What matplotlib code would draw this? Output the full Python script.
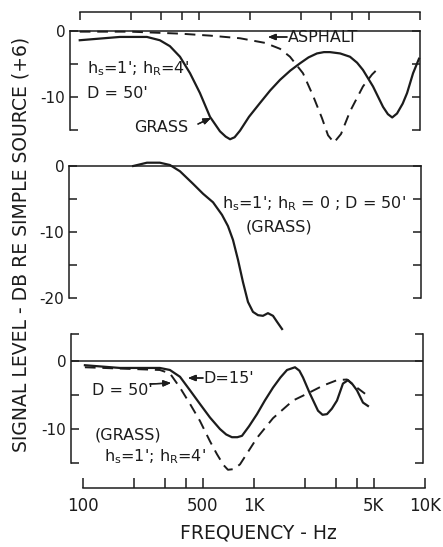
import matplotlib

matplotlib.use("Agg")
import matplotlib.pyplot as plt
from matplotlib.ticker import FixedFormatter, FixedLocator, NullLocator

# ---- data ----
# top panel: hs=1', hR=4', D=50'
top_freq = [97, 167, 241, 287, 329, 377, 432, 494, 566, 648, 700, 743, 790, 850, 960, 1115,
            1280, 1462, 1680, 1915, 2150, 2410, 2650, 2875, 3300, 3770, 4150, 4495, 5150,
            5900, 6300, 6680, 7130, 7700, 8170, 8860, 9600]
top_grass = [-1.4, -0.9, -0.9, -1.4, -2.3, -3.9, -6.4, -9.4, -13.0, -15.2, -16.0, -16.4,
             -16.1, -15.1, -13.0, -10.9, -9.0, -7.4, -6.0, -4.9, -4.0, -3.4, -3.2, -3.2, -3.4,
             -3.9, -4.8, -5.9, -8.4, -11.5, -12.6, -13.1, -12.5, -11.0, -9.4, -6.4, -4.2]
asphalt_freq = [97, 192, 377, 566, 850, 1192, 1462, 1673, 1995, 2285, 2580, 2800, 3035,
                3340, 3770, 4495, 5080, 5660]
asphalt = [-0.1, -0.1, -0.4, -0.7, -1.1, -1.8, -2.7, -3.9, -6.4, -9.8, -13.2, -15.8,
           -16.9, -15.6, -12.2, -8.4, -6.6, -5.4]

# middle panel: hs=1', hR=0, D=50' (grass)
mid_freq = [200, 241, 287, 329, 377, 450, 515, 590, 666, 722, 773, 827, 885, 947, 1013,
            1084, 1160, 1241, 1329, 1403, 1502]
mid_grass = [0.0, 0.5, 0.5, 0.15, -0.8, -2.7, -4.2, -5.5, -7.4, -9.1, -11.2, -14.2, -17.6,
             -20.6, -22.1, -22.6, -22.7, -22.3, -22.7, -23.6, -24.7]

# bottom panel: grass, hs=1', hR=4', D=15' and D=50'
d15_freq = [104, 167, 287, 329, 377, 432, 494, 566, 648, 705, 762, 820, 873, 960, 1070,
            1190, 1329, 1470, 1607, 1790, 1900, 1995, 2193, 2445, 2600, 2762, 2950, 3162,
            3428, 3670, 3900, 4145, 4495, 4810]
d15 = [-0.6, -1.0, -1.0, -1.3, -2.3, -4.3, -6.3, -8.3, -10.0, -10.8, -11.2, -11.2, -11.0,
       -9.6, -7.8, -5.8, -3.9, -2.4, -1.3, -0.9, -1.4, -2.4, -4.8, -7.3, -7.9, -7.8, -7.0,
       -5.8, -3.3, -2.8, -3.4, -4.3, -6.1, -6.6]
d50_freq = [104, 287, 329, 377, 432, 494, 566, 622, 680, 722, 780, 850, 1070, 1329, 1743,
            2106, 2617, 3162, 3620, 4145, 4625]
d50 = [-0.9, -1.3, -1.8, -3.9, -6.3, -8.8, -11.8, -13.7, -15.3, -16.0, -15.9, -15.2, -11.3,
       -8.4, -5.8, -4.8, -3.6, -2.8, -2.7, -3.9, -4.8]

freq_ticks = [100, 200, 300, 400, 500, 1000, 2000, 3000, 4000, 5000, 10000]
freq_labels = ["100", "", "", "", "500", "1K", "", "", "", "5K", "10K"]

W, H = 443, 547
INK = "#1c1c1c"
plt.rcParams["font.family"] = ["DejaVu Sans"]
plt.rcParams["text.color"] = INK
plt.rcParams["axes.edgecolor"] = INK
plt.rcParams["xtick.color"] = INK
plt.rcParams["ytick.color"] = INK


def fx(x):
    return x / W


def fy(y):
    return 1 - y / H


def px_axes(fig, x0, x1, y0, y1):
    return fig.add_axes([x0 / W, 1 - y1 / H, (x1 - x0) / W, (y1 - y0) / H])


def px_freq(x):
    # pixel column -> frequency, 100 Hz at x=82, one decade per 170 px
    return 10 ** (2 + (x - 82) / 170)


def panel(fig, x0, x1, y0, y1, ylim, ticks, labels, top_spine=True):
    ax = px_axes(fig, x0, x1, y0, y1)
    ax.set_xscale("log")
    ax.set_xlim(px_freq(x0), px_freq(x1))
    ax.set_ylim(*ylim)
    ax.patch.set_alpha(0)
    ax.xaxis.set_major_locator(NullLocator())
    ax.xaxis.set_minor_locator(NullLocator())
    ax.spines["bottom"].set_visible(False)
    ax.spines["top"].set_visible(top_spine)
    for side in ("left", "right", "top"):
        ax.spines[side].set_linewidth(1.1)
    ax.yaxis.set_major_locator(FixedLocator(ticks))
    ax.yaxis.set_major_formatter(FixedFormatter(labels))
    ax.tick_params(axis="y", direction="in", length=5.5, width=1.1, left=True,
                   right=True, labelsize=11, pad=3.5)
    return ax


fig = plt.figure(figsize=(W / 100, H / 100), dpi=100)

# top frequency scale
ax_top = px_axes(fig, 80, 420, 12, 22)
ax_top.set_xscale("log")
ax_top.set_xlim(100, 10000)
ax_top.patch.set_alpha(0)
for side in ("left", "right", "bottom"):
    ax_top.spines[side].set_visible(False)
ax_top.spines["top"].set_linewidth(1.1)
ax_top.set_yticks([])
ax_top.xaxis.set_major_locator(FixedLocator(freq_ticks))
ax_top.xaxis.set_minor_locator(NullLocator())
ax_top.tick_params(axis="x", direction="in", length=5.8, width=1.1, top=True,
                   bottom=False, labeltop=False, labelbottom=False)

# bottom frequency scale
ax_bot = px_axes(fig, 83, 425, 478, 488)
ax_bot.set_xscale("log")
ax_bot.set_xlim(100, 10000)
ax_bot.patch.set_alpha(0)
for side in ("left", "right", "top"):
    ax_bot.spines[side].set_visible(False)
ax_bot.spines["bottom"].set_linewidth(1.1)
ax_bot.set_yticks([])
ax_bot.xaxis.set_major_locator(FixedLocator(freq_ticks))
ax_bot.xaxis.set_major_formatter(FixedFormatter(freq_labels))
ax_bot.xaxis.set_minor_locator(NullLocator())
ax_bot.tick_params(axis="x", direction="in", length=7.2, width=1.1, labelsize=12, pad=6.5)

# panel 1
ax1 = panel(fig, 70, 420, 31, 130, (-15, 0), [-15, -10, -5, 0], ["", "-10", "", "0"])
ax1.plot(top_freq, top_grass, color=INK, lw=1.6, clip_on=False)
ax1.plot(asphalt_freq, asphalt, color=INK, lw=1.4, ls=(0, (5.5, 3.5)), clip_on=False)

# panel 2
ax2 = panel(fig, 69, 421, 166, 298, (-20, 0), [-20, -15, -10, -5, 0],
            ["-20", "", "-10", "", "0"])
ax2.plot(mid_freq, mid_grass, color=INK, lw=1.6, clip_on=False)

# panel 3
ax3 = panel(fig, 71, 423, 334, 463, (-15, 4), [-15, -10, -5, 0, 4],
            ["", "-10", "", "0", ""], top_spine=False)
ax3.axhline(0, color=INK, lw=1.1)
ax3.plot(d15_freq, d15, color=INK, lw=1.6, clip_on=False)
ax3.plot(d50_freq, d50, color=INK, lw=1.4, ls=(0, (5.5, 3.5)), clip_on=False)

# annotations
txt = dict(fontsize=11.5, va="baseline", ha="left")
hs_hr4 = r"h$_{\mathregular{s}}$=1'; h$_{\mathregular{R}}$=4'"
fig.text(fx(87), fy(73), hs_hr4, **txt)
fig.text(fx(87), fy(98), "D = 50'", **txt)
fig.text(fx(134), fy(132), "GRASS", **txt)
fig.text(fx(288), fy(42), "ASPHALT", **txt)
fig.text(fx(222), fy(208),
         r"h$_{\mathregular{s}}$=1'; h$_{\mathregular{R}}$ = 0 ; D = 50'", **txt)
fig.text(fx(246), fy(231), "(GRASS)", **txt)
fig.text(fx(203), fy(383), "D=15'", **txt)
fig.text(fx(92), fy(395), "D = 50'", **txt)
fig.text(fx(95), fy(440), "(GRASS)", **txt)
fig.text(fx(104), fy(461), hs_hr4, **txt)

arrow = dict(arrowstyle="-|>,head_length=0.45,head_width=0.18", color=INK, lw=1.0,
             shrinkA=0, shrinkB=0)
for (xa, ya), (xb, yb) in [((198, 124), (211, 118)), ((287, 37), (268, 37)),
                           ((203, 378), (188, 378)), ((150, 384), (171, 383))]:
    fig.add_artist(plt.annotate("", xy=(fx(xb), fy(yb)), xytext=(fx(xa), fy(ya)),
                                xycoords="figure fraction", textcoords="figure fraction",
                                arrowprops=arrow))

fig.text(fx(21), fy(244), "SIGNAL LEVEL - DB RE SIMPLE SOURCE (+6)", rotation=90,
         ha="center", va="center", fontsize=13.5)
fig.text(fx(258), fy(533), "FREQUENCY - Hz", ha="center", va="center", fontsize=13.5)

fig.savefig("out.png", dpi=100, facecolor="white")
